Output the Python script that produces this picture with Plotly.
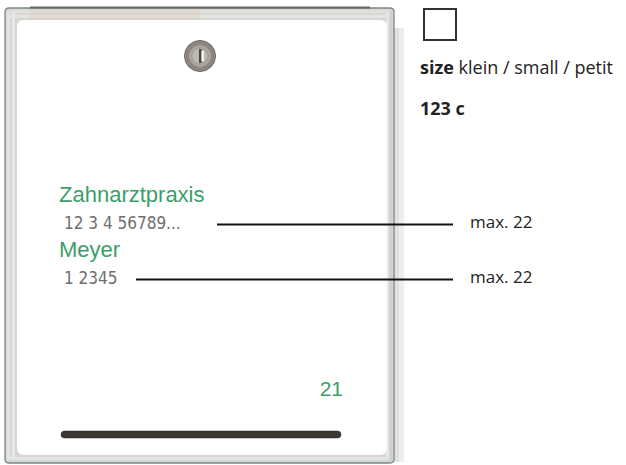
import plotly.graph_objects as go

# ---- data ----
plate_names = ["Zahnarztpraxis", "Meyer"]
plate_numbers = ["12 3 4 56789...", "1 2345"]
max_chars = [22, 22]
house_number = ["21"]
size_label = ["klein / small / petit"]
color_code = ["123 c"]
brand = ["KARUS DESIGN"]

GREEN = "#3a9e6a"
GREY = "#6e6e6e"

fig = go.Figure()

shapes = []
# right drop shadow
shapes.append(dict(type="rect", x0=393, x1=404, y0=28, y1=462, fillcolor="#eeeeee", line=dict(width=0), layer="below"))
shapes.append(dict(type="rect", x0=393, x1=399, y0=28, y1=462, fillcolor="#e0e0e0", line=dict(width=0), layer="below"))
# outer frame
shapes.append(dict(type="path", path="M 9,8 L 390,8 Q 394,8 394,12 L 394,459 Q 394,463 390,463 L 9,463 Q 5,463 5,459 L 5,12 Q 5,8 9,8 Z",
                   fillcolor="#d6d6d4", line=dict(color="#7a8984", width=1.3), layer="below"))
# frame texture bands
for x0, x1, c in [(7, 10, "#e4e4e2"), (12, 15, "#e8e8e6"), (386, 389, "#e6e6e4"), (390, 392, "#cfcfcd")]:
    shapes.append(dict(type="rect", x0=x0, x1=x1, y0=12, y1=460, fillcolor=c, line=dict(width=0), layer="below"))
for y0, y1, c in [(10, 13, "#e2e0dc"), (15, 18, "#e6e4e0"), (457, 460, "#e4e4e2")]:
    shapes.append(dict(type="rect", x0=10, x1=389, y0=y0, y1=y1, fillcolor=c, line=dict(width=0), layer="below"))
# faint bronze tint near top-left
shapes.append(dict(type="rect", x0=30, x1=200, y0=9, y1=19, fillcolor="#d9ccb8", line=dict(width=0), layer="below", opacity=0.35))
# top dark edge
shapes.append(dict(type="line", x0=30, x1=370, y0=7.5, y1=7.5, line=dict(color="#6a6a6a", width=2), layer="below"))
# inner white plate
shapes.append(dict(type="path", path="M 24,20 L 380,20 Q 387,20 387,27 L 387,448 Q 387,455 380,455 L 24,455 Q 17,455 17,448 L 17,27 Q 17,20 24,20 Z",
                   fillcolor="#ffffff", line=dict(width=0), layer="below"))
# lock
shapes.append(dict(type="circle", x0=184.5, x1=215.5, y0=40.5, y1=71.5, fillcolor="#8d877f", line=dict(color="#6e6a66", width=1)))
shapes.append(dict(type="circle", x0=188.5, x1=211.5, y0=44.5, y1=67.5, fillcolor="#aaa49c", line=dict(color="#8a857e", width=1)))
shapes.append(dict(type="circle", x0=192, x1=208, y0=48, y1=64, fillcolor="#bdb8b0", line=dict(color="#9a958e", width=0.8)))
shapes.append(dict(type="rect", x0=199, x1=201.5, y0=49, y1=63, fillcolor="#4a4642", line=dict(width=0)))
shapes.append(dict(type="rect", x0=201.5, x1=204, y0=51, y1=61, fillcolor="#f2f0ec", line=dict(width=0)))
# bottom brand bar
shapes.append(dict(type="path", path="M 64.5,431 L 337.5,431 Q 341,431 341,434.5 Q 341,438 337.5,438 L 64.5,438 Q 61,438 61,434.5 Q 61,431 64.5,431 Z",
                   fillcolor="#3a3632", line=dict(color="#2a2724", width=0.5)))
# colour square
shapes.append(dict(type="rect", x0=424, x1=456, y0=9, y1=40, fillcolor="rgba(0,0,0,0)", line=dict(color="#333333", width=2)))
# guide lines
shapes.append(dict(type="line", x0=217, x1=453, y0=224.5, y1=224.5, line=dict(color="#111111", width=2)))
shapes.append(dict(type="line", x0=136, x1=453, y0=279.5, y1=279.5, line=dict(color="#111111", width=2)))

# plate names
fig.add_trace(go.Scatter(x=[59, 59], y=[196, 251], mode="text", text=plate_names,
                         textposition="middle right",
                         textfont=dict(family="Liberation Sans, Arial", size=22, color=GREEN),
                         hoverinfo="skip"))
# plate numbers
fig.add_trace(go.Scatter(x=[64, 64], y=[225, 280], mode="text", text=plate_numbers,
                         textposition="middle right",
                         textfont=dict(family="DejaVu Sans Condensed, DejaVu Sans", size=17, color=GREY),
                         hoverinfo="skip"))
# max labels
fig.add_trace(go.Scatter(x=[470, 470], y=[224, 279], mode="text",
                         text=[f"max. {m}" for m in max_chars],
                         textposition="middle right",
                         textfont=dict(family="Open Sans", size=17, color="#222222"),
                         hoverinfo="skip"))
# house number
fig.add_trace(go.Scatter(x=[343], y=[390.5], mode="text", text=house_number,
                         textposition="middle left",
                         textfont=dict(family="Liberation Sans, Arial", size=21, color=GREEN),
                         hoverinfo="skip"))
# brand text
fig.add_trace(go.Scatter(x=[338], y=[434.5], mode="text", text=brand,
                         textposition="middle left",
                         textfont=dict(family="DejaVu Sans Condensed", size=4, color="#dddddd"),
                         hoverinfo="skip"))
# size + colour code
fig.add_trace(go.Scatter(x=[420], y=[69], mode="text",
                         text=["<b>size</b> " + size_label[0]],
                         textposition="middle right",
                         textfont=dict(family="Open Sans", size=18, color="#222222"),
                         hoverinfo="skip"))
fig.add_trace(go.Scatter(x=[420], y=[110], mode="text",
                         text=["<b>" + color_code[0] + "</b>"],
                         textposition="middle right",
                         textfont=dict(family="Open Sans", size=18, color="#222222"),
                         hoverinfo="skip"))

fig.update_layout(
    width=626, height=465,
    margin=dict(l=0, r=0, t=0, b=0),
    paper_bgcolor="white", plot_bgcolor="white",
    showlegend=False,
    shapes=shapes,
    xaxis=dict(range=[0, 626], visible=False, fixedrange=True),
    yaxis=dict(range=[465, 0], visible=False, fixedrange=True),
)

fig.write_html("out.html", config={"displayModeBar": False},
               post_script="document.body.style.margin='0';")
